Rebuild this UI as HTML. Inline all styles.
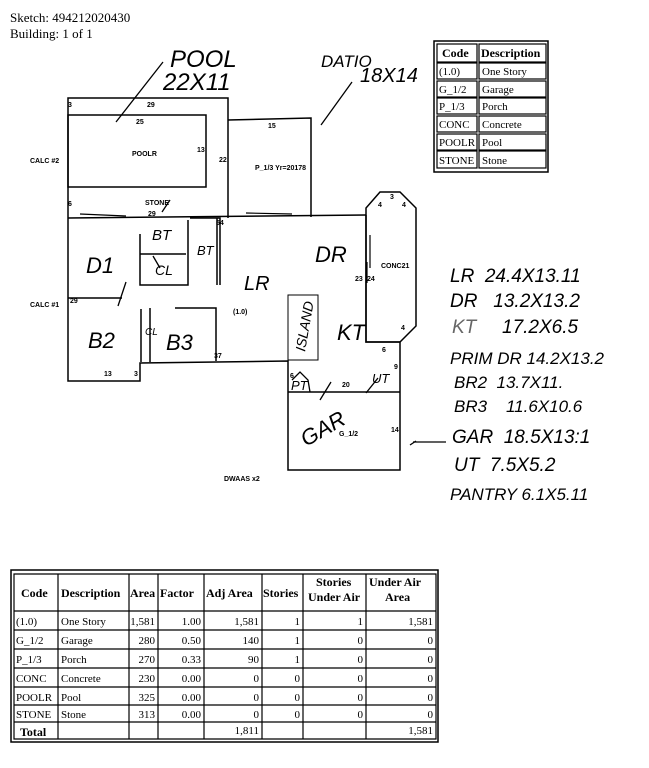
<!DOCTYPE html>
<html><head><meta charset="utf-8"><style>
html,body{margin:0;padding:0;background:#fff;}
svg{display:block;}
.t{font-family:"Liberation Serif",serif;fill:#000;}
.s{font-family:"Liberation Sans",sans-serif;font-weight:bold;font-size:7px;fill:#000;}
.h{font-family:"Liberation Sans",sans-serif;font-style:italic;fill:#000;}
</style></head><body>
<svg width="649" height="768" viewBox="0 0 649 768" xmlns="http://www.w3.org/2000/svg">
<rect width="649" height="768" fill="#fff"/>
<text class="t" x="10" y="22" font-size="13">Sketch: 494212020430</text>
<text class="t" x="10" y="38" font-size="13">Building: 1 of 1</text>

<!-- legend table -->
<g stroke="#000" fill="none">
<rect x="434" y="41" width="114" height="131" stroke-width="1.5"/>
<g stroke-width="1.2">
<rect x="437" y="44" width="40" height="18"/><rect x="479" y="44" width="67" height="18"/>
<rect x="437" y="63" width="40" height="16"/><rect x="479" y="63" width="67" height="16"/>
<rect x="437" y="81" width="40" height="16"/><rect x="479" y="81" width="67" height="16"/>
<rect x="437" y="98" width="40" height="16"/><rect x="479" y="98" width="67" height="16"/>
<rect x="437" y="116" width="40" height="16"/><rect x="479" y="116" width="67" height="16"/>
<rect x="437" y="134" width="40" height="16"/><rect x="479" y="134" width="67" height="16"/>
<rect x="437" y="151" width="40" height="17"/><rect x="479" y="151" width="67" height="17"/>
</g></g>
<g class="t" font-size="11">
<text x="442" y="57" font-weight="bold" font-size="12">Code</text><text x="481" y="57" font-weight="bold" font-size="12">Description</text>
<text x="439" y="75">(1.0)</text><text x="482" y="75">One Story</text>
<text x="439" y="93">G_1/2</text><text x="482" y="93">Garage</text>
<text x="439" y="110">P_1/3</text><text x="482" y="110">Porch</text>
<text x="439" y="128">CONC</text><text x="482" y="128">Concrete</text>
<text x="439" y="146">POOLR</text><text x="482" y="146">Pool</text>
<text x="439" y="164">STONE</text><text x="482" y="164">Stone</text>
</g>

<!-- sketch -->
<g stroke="#000" fill="none" stroke-width="1.5">
<polyline points="68,218 68,98 228,98 228,218"/>
<rect x="68" y="115" width="138" height="72"/>
<polyline points="228,120 311,118 311,217"/>
<polyline points="68,218 366,215"/>
<polyline points="68,218 68,381 140,381 140,363 288,361 288,470 400,470 400,342 366,342 366,215"/>
<polygon points="380,192 400,192 416,208 416,326 400,342 366,342 366,208"/>
<line x1="288" y1="392" x2="400" y2="392"/>
<!-- interior -->
<polyline points="68,298 122,298"/>
<polyline points="140,234 140,285 188,285 188,220"/>
<line x1="140" y1="254" x2="186" y2="254"/>
<polyline points="190,218 220,218 220,285"/>
<line x1="217" y1="218" x2="217" y2="285"/>
<line x1="141" y1="309" x2="141" y2="362"/>
<line x1="150" y1="308" x2="150" y2="362"/>
<polyline points="175,308 216,308 216,361"/>
<rect x="288" y="295" width="30" height="65" stroke-width="1"/>
<line x1="370" y1="235" x2="370" y2="268" stroke-width="1.2"/>
<line x1="367" y1="262" x2="367" y2="283" stroke-width="1.2"/>
<line x1="80" y1="214" x2="126" y2="216" stroke-width="1.2"/>
<line x1="246" y1="213" x2="292" y2="214" stroke-width="1.2"/>
<!-- handwriting strokes -->
<g stroke-width="1.3">
<line x1="116" y1="122" x2="163" y2="62"/>
<line x1="321" y1="125" x2="352" y2="82"/>
<line x1="162" y1="212" x2="170" y2="200"/>
<line x1="118" y1="306" x2="126" y2="282"/>
<line x1="153" y1="256" x2="160" y2="268"/>
<line x1="320" y1="400" x2="331" y2="382"/>
<line x1="366" y1="393" x2="378" y2="378"/>
<line x1="413" y1="442" x2="446" y2="442"/>
<line x1="410" y1="445" x2="416" y2="441"/>
<path d="M292 380 L300 372 L308 380 L310 392"/>
</g>
</g>
<g class="s">
<text x="68" y="107">3</text><text x="147" y="107">29</text><text x="136" y="124">25</text>
<text x="132" y="156">POOLR</text><text x="197" y="152">13</text><text x="219" y="162">22</text>
<text x="30" y="163">CALC #2</text><text x="268" y="128">15</text>
<text x="255" y="170">P_1/3 Yr=20178</text><text x="68" y="206">6</text>
<text x="145" y="205">STONE</text><text x="148" y="216">29</text><text x="216" y="225">54</text>
<text x="381" y="268">CONC21</text><text x="355" y="281">23</text><text x="367" y="281">24</text>
<text x="378" y="207">4</text><text x="390" y="199">3</text><text x="402" y="207">4</text>
<text x="401" y="330">4</text><text x="382" y="352">6</text><text x="394" y="369">9</text>
<text x="30" y="307">CALC #1</text><text x="70" y="303">29</text>
<text x="233" y="314">(1.0)</text><text x="214" y="358">37</text>
<text x="104" y="376">13</text><text x="134" y="376">3</text>
<text x="290" y="378">6</text><text x="342" y="387">20</text>
<text x="339" y="436">G_1/2</text><text x="391" y="432">14</text>
<text x="224" y="481">DWAAS x2</text>
</g>
<!-- handwritten labels -->
<g class="h">
<text x="170" y="67" font-size="24">POOL</text>
<text x="163" y="90" font-size="24">22X11</text>
<text x="321" y="67" font-size="17">DATIO</text>
<text x="360" y="82" font-size="20">18X14</text>
<text x="86" y="273" font-size="22">D1</text>
<text x="152" y="240" font-size="15">BT</text>
<text x="197" y="255" font-size="13">BT</text>
<text x="155" y="275" font-size="14">CL</text>
<text x="244" y="290" font-size="20">LR</text>
<text x="315" y="262" font-size="22">DR</text>
<text x="88" y="348" font-size="22">B2</text>
<text x="145" y="335" font-size="10">CL</text>
<text x="166" y="350" font-size="22">B3</text>
<text x="305" y="352" font-size="14" transform="rotate(-80 305 352)">ISLAND</text>
<text x="337" y="340" font-size="22">KT</text>
<text x="291" y="390" font-size="13">PT</text>
<text x="372" y="383" font-size="13">UT</text>
<text x="306" y="447" font-size="22" transform="rotate(-30 306 447)">GAR</text>
</g>
<g class="h" font-size="19">
<text x="450" y="282">LR &#160;24.4X13.11</text>
<text x="450" y="307">DR &#160;&#160;13.2X13.2</text>
<text x="452" y="333" fill="#666">KT</text><text x="502" y="333">17.2X6.5</text>
<text x="450" y="364" font-size="17">PRIM DR 14.2X13.2</text>
<text x="454" y="388" font-size="17">BR2 &#160;13.7X11.</text>
<text x="454" y="412" font-size="17">BR3 &#160;&#160;&#160;11.6X10.6</text>
<text x="452" y="443">GAR &#160;18.5X13:1</text>
<text x="454" y="471">UT &#160;7.5X5.2</text>
<text x="450" y="500" font-size="17">PANTRY 6.1X5.11</text>
</g>

<!-- bottom table -->
<g stroke="#000" fill="none">
<rect x="11" y="570" width="427" height="172" stroke-width="1.5"/>
<g stroke-width="1.2">
<path d="M14 574 H436 V739 H14 Z M14 611 H436 M14 630 H436 M14 649 H436 M14 668 H436 M14 687 H436 M14 705 H436 M14 722 H436 M58 574 V739 M129 574 V739 M158 574 V739 M204 574 V739 M262 574 V739 M303 574 V739 M366 574 V739"/>
</g></g>
<g class="t" font-size="11">
<g font-weight="bold" font-size="12">
<text x="21" y="597">Code</text><text x="61" y="597">Description</text><text x="130" y="597">Area</text>
<text x="160" y="597">Factor</text><text x="206" y="597">Adj Area</text><text x="263" y="597">Stories</text>
<text x="316" y="586">Stories</text><text x="308" y="601">Under Air</text>
<text x="369" y="586">Under Air</text><text x="385" y="601">Area</text>
</g>
<text x="16" y="625">(1.0)</text><text x="61" y="625">One Story</text>
<text x="16" y="644">G_1/2</text><text x="61" y="644">Garage</text>
<text x="16" y="663">P_1/3</text><text x="61" y="663">Porch</text>
<text x="16" y="682">CONC</text><text x="61" y="682">Concrete</text>
<text x="16" y="701">POOLR</text><text x="61" y="701">Pool</text>
<text x="16" y="718">STONE</text><text x="61" y="718">Stone</text>
<text x="20" y="736" font-weight="bold" font-size="12">Total</text>
<g text-anchor="end">
<text x="155" y="625">1,581</text><text x="201" y="625">1.00</text><text x="259" y="625">1,581</text><text x="300" y="625">1</text><text x="363" y="625">1</text><text x="433" y="625">1,581</text>
<text x="155" y="644">280</text><text x="201" y="644">0.50</text><text x="259" y="644">140</text><text x="300" y="644">1</text><text x="363" y="644">0</text><text x="433" y="644">0</text>
<text x="155" y="663">270</text><text x="201" y="663">0.33</text><text x="259" y="663">90</text><text x="300" y="663">1</text><text x="363" y="663">0</text><text x="433" y="663">0</text>
<text x="155" y="682">230</text><text x="201" y="682">0.00</text><text x="259" y="682">0</text><text x="300" y="682">0</text><text x="363" y="682">0</text><text x="433" y="682">0</text>
<text x="155" y="701">325</text><text x="201" y="701">0.00</text><text x="259" y="701">0</text><text x="300" y="701">0</text><text x="363" y="701">0</text><text x="433" y="701">0</text>
<text x="155" y="718">313</text><text x="201" y="718">0.00</text><text x="259" y="718">0</text><text x="300" y="718">0</text><text x="363" y="718">0</text><text x="433" y="718">0</text>
<text x="259" y="734">1,811</text><text x="433" y="734">1,581</text>
</g>
</g>
</svg>
</body></html>
